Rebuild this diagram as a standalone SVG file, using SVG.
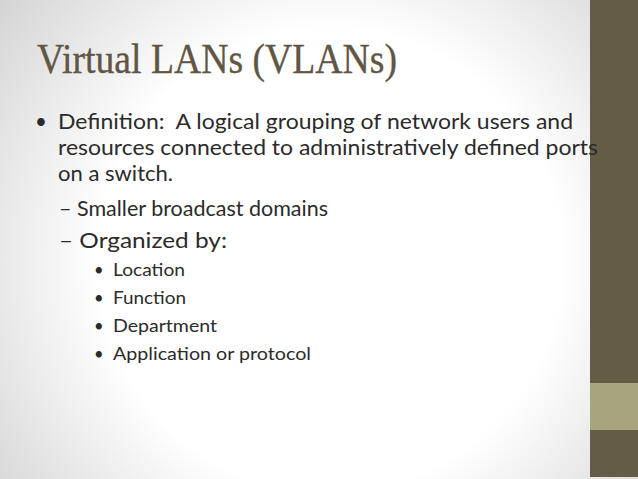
<svg xmlns="http://www.w3.org/2000/svg" width="638" height="479" viewBox="0 0 638 479">
  <defs>
    <radialGradient id="bg" gradientUnits="userSpaceOnUse" cx="330" cy="260" r="420">
      <stop offset="0" stop-color="#ffffff"/>
      <stop offset="0.55" stop-color="#ffffff"/>
      <stop offset="1" stop-color="#d4d4d4"/>
    </radialGradient>
    <style>
      .title { font-family: "Liberation Serif", "DejaVu Serif", serif; font-size: 42px; fill: #5f5644; stroke: #5f5644; stroke-width: 0.35px; }
      .body { font-family: Lato, "Open Sans", "Liberation Sans", sans-serif; font-size: 20.5px; fill: #2b2b2b; }
      .sub { font-family: Lato, "Open Sans", "Liberation Sans", sans-serif; font-size: 16.5px; fill: #2b2b2b; }
    </style>
  </defs>
  <rect x="0" y="0" width="638" height="479" fill="url(#bg)"/>
  <g id="sidebar">
    <rect x="590" y="0" width="48" height="477" fill="#655c47"/>
    <rect x="590" y="383" width="48" height="47" fill="#a8a47e"/>
  </g>
  <g id="title">
    <text class="title" x="37" y="73" textLength="360" lengthAdjust="spacingAndGlyphs">Virtual LANs (VLANs)</text>
  </g>
  <g id="content">
    <text class="body" x="35" y="129">•</text>
    <text class="body" x="58" y="129" textLength="515" lengthAdjust="spacingAndGlyphs" xml:space="preserve">Definition:  A logical grouping of network users and</text>
    <text class="body" x="58" y="155" textLength="540" lengthAdjust="spacingAndGlyphs">resources connected to administratively defined ports</text>
    <text class="body" x="58" y="181" textLength="115" lengthAdjust="spacingAndGlyphs">on a switch.</text>
    <text class="body" x="59" y="216" textLength="269" lengthAdjust="spacingAndGlyphs">– Smaller broadcast domains</text>
    <text class="body" x="59" y="248" textLength="168" lengthAdjust="spacingAndGlyphs">– Organized by:</text>
    <text class="sub" x="94" y="276">•</text>
    <text class="sub" x="113" y="276" textLength="72" lengthAdjust="spacingAndGlyphs">Location</text>
    <text class="sub" x="94" y="304">•</text>
    <text class="sub" x="113" y="304" textLength="73" lengthAdjust="spacingAndGlyphs">Function</text>
    <text class="sub" x="94" y="332">•</text>
    <text class="sub" x="113" y="332" textLength="104" lengthAdjust="spacingAndGlyphs">Department</text>
    <text class="sub" x="94" y="360">•</text>
    <text class="sub" x="113" y="360" textLength="198" lengthAdjust="spacingAndGlyphs">Application or protocol</text>
  </g>
</svg>
